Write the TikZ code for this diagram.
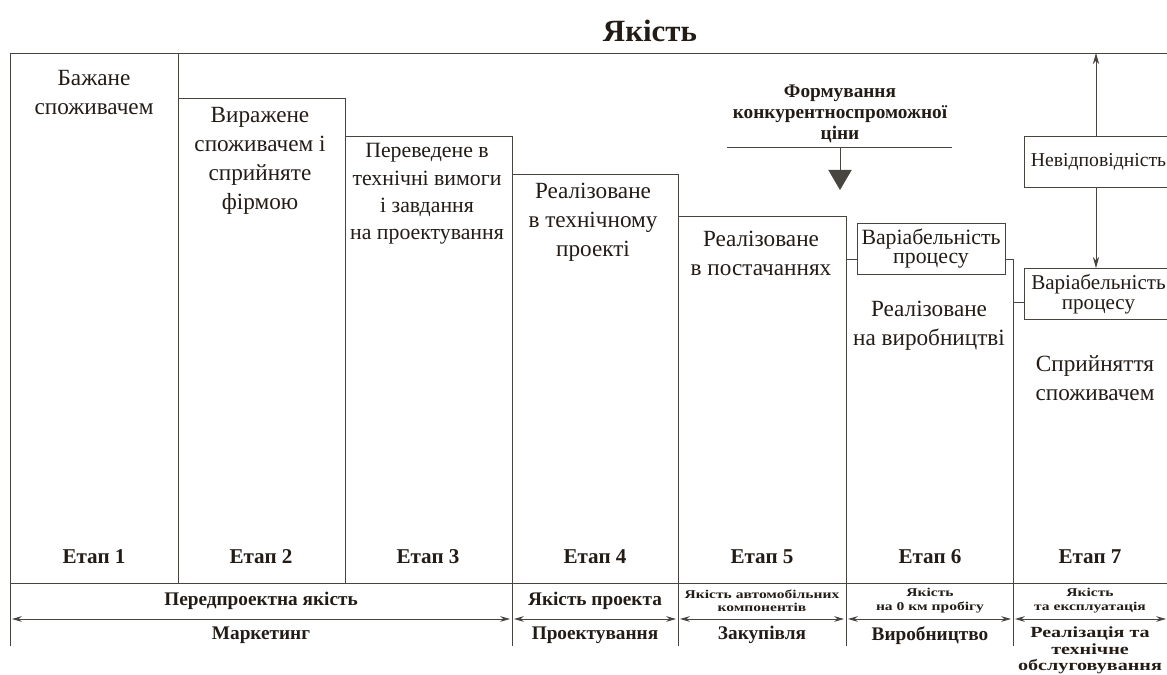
\documentclass[tikz,border=0pt]{standalone}
\usepackage{fontspec}
\setmainfont{Liberation Serif}
\newfontfamily\widefont{Liberation Serif}[FakeStretch=1.3]
\usetikzlibrary{positioning, arrows.meta, calc}
\definecolor{ink}{RGB}{35,28,22}
\definecolor{rule}{RGB}{72,68,64}

\begin{document}
\begin{tikzpicture}[
		x=0.025cm, y=-0.025cm,
		color=rule, line width=0.6pt,
		every node/.style={text=ink},
		txt/.style={align=center, inner sep=0pt, font=\fontsize{16.5}{20.6}\selectfont},
		smalltxt/.style={align=center, inner sep=0pt, font=\fontsize{15.5}{19.4}\selectfont},
		varbox/.style={draw=rule, align=center, inner sep=0pt, minimum width=3.7cm, minimum height=1.275cm, font=\fontsize{15.5}{14}\selectfont},
		etap/.style={inner sep=0pt, font=\bfseries\fontsize{15}{16}\selectfont},
		head/.style={inner sep=0pt, align=center, font=\bfseries\fontsize{13.7}{15}\selectfont},
		lbl/.style={inner sep=0pt, align=center, font=\bfseries\fontsize{13.7}{10.2}\selectfont},
		tinytxt/.style={inner sep=0pt, align=center, font=\widefont\bfseries\fontsize{8.5}{9.5}\selectfont},
		spanarrow/.style={{Stealth[length=7pt,width=4pt]}-{Stealth[length=7pt,width=4pt]}},
		uparrow/.style={-{Stealth[length=8pt,width=4.5pt]}}
		]
		\useasboundingbox (0,0) rectangle (1167,675);
		\clip (0,0) rectangle (1167,675);
		
		% title
		\node[inner sep=0pt, font=\bfseries\fontsize{22}{24}\selectfont] (title) at (650,31) {Якість};
		
		% steps of quality
		\draw (10,646) -- (10,53) -- (1167,53);
		\draw (178,53) -- (178,583);
		\draw (178,98) -- (345,98) -- (345,583);
		\draw (345,136) -- (512,136) -- (512,646);
		\draw (512,174) -- (678,174) -- (678,646);
		\draw (678,216) -- (846,216) -- (846,646);
		\draw (10,583) -- (1167,583);
		
		\node[txt] (s1) at (94,92.5) {Бажане\\споживачем};
		\node[txt] (s2) at (260,160.5) {Виражене\\споживачем і\\сприйняте\\фірмою};
		\node[smalltxt] (s3) at (427,194) {Переведене в\\технічні вимоги\\і завдання\\на проектування};
		\node[txt] (s4) at (593,222.5) {Реалізоване\\в технічному\\проекті};
		\node[txt] (s5) at (761,253) {Реалізоване\\в постачаннях};
		\node[txt] (s6) at (929,326) {Реалізоване\\на виробництві};
		\node[txt] (s7) at (1095,378.5) {Сприйняття\\споживачем};
		
		% variability and nonconformity
		\node[varbox] (var1) at (931,248.5) {Варіабельність\\процесу};
		\node[varbox, font=\fontsize{14}{14}\selectfont] (nevid) at (1098.5,161.5) {Невідповідність};
		\node[varbox, font=\fontsize{15}{14}\selectfont] (var2) at (1098.5,294) {Варіабельність\\процесу};
		
		\coordinate (c5) at (846,259);
		\coordinate (e6) at (1013,646);
		\coordinate (c6) at (1013,302);
		\coordinate (top) at (1096,53);
		\draw (c5) -- (c5 -| var1.west);
		\draw (c5 -| var1.east) -- (c5 -| e6) -- (e6);
		\draw (c6) -- (c6 -| var2.west);
		\draw[uparrow] (top |- nevid.north) -- (top);
		\draw[uparrow] (top |- nevid.south) -- (top |- var2.north);
		
		% price
		\node[head] (price) at (840,114) {Формування\\конкурентноспроможної\\ціни};
		\coordinate (pl) at (727,147);
		\coordinate (pr) at (952,147);
		\coordinate (pm) at (840,147);
		\coordinate (ptip) at (840,190);
		\draw (pl) -- (pr);
		\draw[-{Triangle[length=0.5cm,width=0.58cm]}, fill=ink] (pm) -- (ptip);
		
		% stages
		\node[etap] (e1) at (94,557) {Етап 1};
		\node[etap] (e2) at (261,557) {Етап 2};
		\node[etap] (e3) at (428,557) {Етап 3};
		\node[etap] (e4) at (595,557) {Етап 4};
		\node[etap] (e5) at (762,557) {Етап 5};
		\node[etap] (e6l) at (930,557) {Етап 6};
		\node[etap] (e7) at (1090,557) {Етап 7};
		
		% bottom spans
		\coordinate (a0) at (12,619);
		\coordinate (a1) at (510,619);
		\coordinate (b0) at (514,619);
		\coordinate (b1) at (676,619);
		\coordinate (d0) at (680,619);
		\coordinate (d1) at (844,619);
		\coordinate (f0) at (848,619);
		\coordinate (f1) at (1011,619);
		\coordinate (g0) at (1015,619);
		\coordinate (g1) at (1166,619);
		\draw[spanarrow] (a0) -- (a1);
		\draw[spanarrow] (b0) -- (b1);
		\draw[spanarrow] (d0) -- (d1);
		\draw[spanarrow] (f0) -- (f1);
		\draw[spanarrow] (g0) -- (g1);
		
		\node[lbl] (q1) at (261,601) {Передпроектна якість};
		\node[lbl] (q2) at (595,601) {Якість проекта};
		\node[tinytxt] (q3) at (762,600.5) {Якість автомобільних\\компонентів};
		\node[tinytxt] (q4) at (930,600.5) {Якість\\на 0 км пробігу};
		\node[tinytxt] (q5) at (1090,600.5) {Якість\\та експлуатація};
		
		\node[lbl] (m1) at (261,635) {Маркетинг};
		\node[lbl] (m2) at (595,635) {Проектування};
		\node[lbl] (m3) at (762,635) {Закупівля};
		\node[lbl] (m4) at (930,636) {Виробництво};
		\node[lbl, anchor=north, font=\widefont\bfseries\fontsize{11}{12}\selectfont] (m5) at (1090,626) {Реалізація та\\технічне\\обслуговування};
		
	\end{tikzpicture}
\end{document}
